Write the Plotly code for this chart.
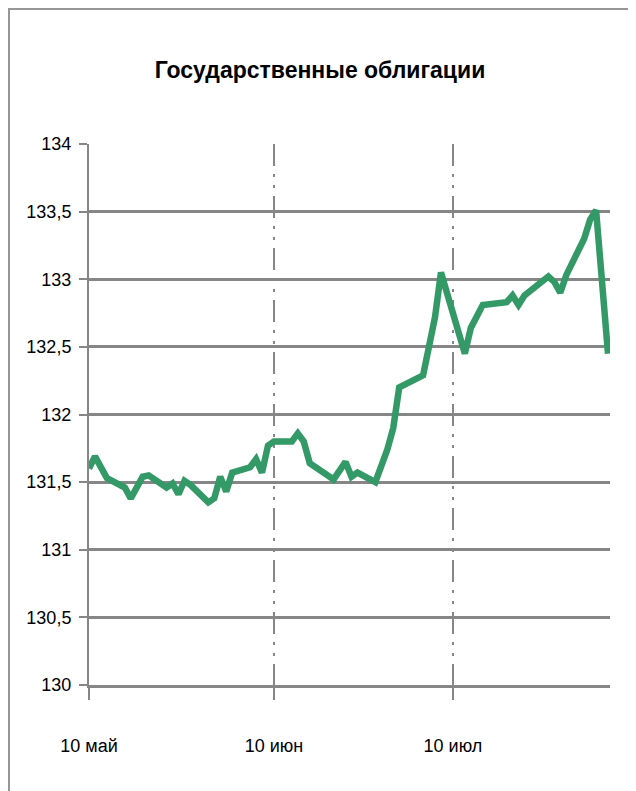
import plotly.graph_objects as go

dates = ["2011-05-10", "2011-05-11", "2011-05-13", "2011-05-16", "2011-05-17", "2011-05-19",
         "2011-05-20", "2011-05-23", "2011-05-24", "2011-05-25", "2011-05-26", "2011-05-27",
         "2011-05-30", "2011-05-31", "2011-06-01", "2011-06-02", "2011-06-03", "2011-06-06",
         "2011-06-07", "2011-06-08", "2011-06-09", "2011-06-10", "2011-06-13", "2011-06-14",
         "2011-06-15", "2011-06-16", "2011-06-20", "2011-06-22", "2011-06-23", "2011-06-24",
         "2011-06-27", "2011-06-29", "2011-06-30", "2011-07-01", "2011-07-05", "2011-07-07",
         "2011-07-08", "2011-07-12", "2011-07-13", "2011-07-14", "2011-07-15", "2011-07-19",
         "2011-07-20", "2011-07-21", "2011-07-22", "2011-07-26", "2011-07-27", "2011-07-28",
         "2011-07-29", "2011-08-01", "2011-08-02", "2011-08-03", "2011-08-05"]
values = [131.60, 131.69, 131.53, 131.46, 131.38, 131.54,
          131.55, 131.46, 131.49, 131.41, 131.51, 131.48,
          131.35, 131.38, 131.54, 131.43, 131.57, 131.61,
          131.67, 131.57, 131.77, 131.80, 131.80, 131.86,
          131.80, 131.64, 131.52, 131.65, 131.54, 131.57,
          131.50, 131.74, 131.90, 132.20, 132.29, 132.72,
          133.05, 132.45, 132.64, 132.72, 132.81, 132.83,
          132.88, 132.81, 132.88, 133.02, 132.98, 132.90,
          133.03, 133.30, 133.44, 133.51, 132.45]

x_tick_vals = ["2011-05-10", "2011-06-10", "2011-07-10"]
x_tick_text = ["10 май", "10 июн", "10 июл"]
y_tick_vals = [130, 130.5, 131, 131.5, 132, 132.5, 133, 133.5, 134]
y_tick_text = ["130", "130,5", "131", "131,5", "132", "132,5", "133", "133,5", "134"]

FONT = "Liberation Sans Narrow, Arial Narrow, Liberation Sans, Arial, sans-serif"
GRID = "rgb(134,134,134)"

fig = go.Figure()
fig.add_trace(go.Scatter(
    x=dates, y=values, mode="lines",
    line=dict(color="rgb(51,153,102)", width=6.5),
    hoverinfo="skip", showlegend=False,
))

# page has an 8px body offset; figure coords = page coords - 8
W, H = 636, 791
L, R, T, B = 81, 34, 136, 114
pw, ph = W - L - R, H - T - B

fig.update_layout(
    width=W, height=H,
    margin=dict(l=L, r=R, t=T, b=B),
    paper_bgcolor="white", plot_bgcolor="white",
    font=dict(family=FONT, color="black"),
    title=dict(text="<b>Государственные облигации</b>",
               font=dict(family=FONT, size=23, color="black"),
               x=(312 - L) / pw, xanchor="center", xref="paper",
               y=1 - 62 / H, yanchor="middle", yref="container"),
    xaxis=dict(
        type="date", range=["2011-05-10", "2011-08-05 08:00"],
        tickmode="array", tickvals=x_tick_vals, ticktext=x_tick_text,
        tickfont=dict(family=FONT, size=18, color="black"),
        ticks="outside", ticklen=12, tickwidth=2, tickcolor=GRID,
        ticklabelstandoff=30,
        showgrid=True, gridcolor=GRID, gridwidth=2,
        griddash="22px,8px,3px,8px,3px,8px",
        showline=True, linecolor=GRID, linewidth=3,
        zeroline=False, fixedrange=True,
    ),
    yaxis=dict(
        range=[130, 134],
        tickmode="array", tickvals=y_tick_vals, ticktext=y_tick_text,
        tickfont=dict(family=FONT, size=18, color="black"),
        ticks="outside", ticklen=8, tickwidth=2, tickcolor=GRID,
        ticklabelstandoff=4,
        showgrid=True, gridcolor=GRID, gridwidth=3,
        showline=True, linecolor=GRID, linewidth=2,
        zeroline=False, fixedrange=True,
    ),
    shapes=[dict(
        type="rect", xref="paper", yref="paper",
        x0=(1 - L) / pw, x1=(625 - L) / pw,
        y0=(H - B - 820) / ph, y1=(H - B - 1) / ph,
        line=dict(color="rgb(150,150,150)", width=2),
        fillcolor="rgba(0,0,0,0)", layer="below",
    )],
)

fig.write_html("out.html")
